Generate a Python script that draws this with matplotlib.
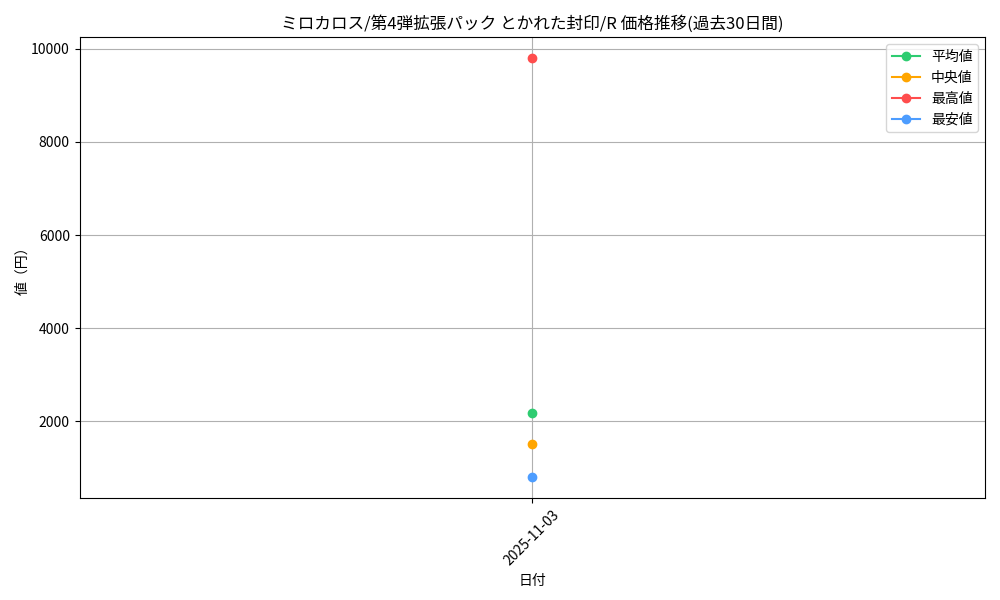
import matplotlib
matplotlib.use('Agg')
import matplotlib.pyplot as plt

plt.rcParams['font.family'] = ['Noto Sans CJK JP', 'DejaVu Sans']

# Donnees
dates = ['2025-11-03']
moyenne = [2170]
mediane = [1500]
maximum = [9800]
minimum = [800]

series = [
    ('平均値', moyenne, '#2ecc71'),
    ('中央値', mediane, '#ffa500'),
    ('最高値', maximum, '#ff4d4d'),
    ('最安値', minimum, '#4d9dff'),
]

fig, ax = plt.subplots(figsize=(10, 6), dpi=100)
for label, vals, c in series:
    ax.plot(dates, vals, marker='o', color=c, label=label)

ax.set_title('ミロカロス/第4弾拡張パック とかれた封印/R 価格推移(過去30日間)', fontsize=12)
ax.set_xlabel('日付', fontsize=10)
ax.set_ylabel('値（円）', fontsize=10, labelpad=1)
ax.tick_params(axis='x', labelrotation=45, labelsize=10)
ax.tick_params(axis='y', labelsize=10)
ax.grid(True, color='#b0b0b0', linewidth=0.8)
ax.legend(loc='upper right', fontsize=10)

plt.subplots_adjust(left=0.0795, right=0.985, top=0.938, bottom=0.17)
plt.savefig('out.png', dpi=100)
